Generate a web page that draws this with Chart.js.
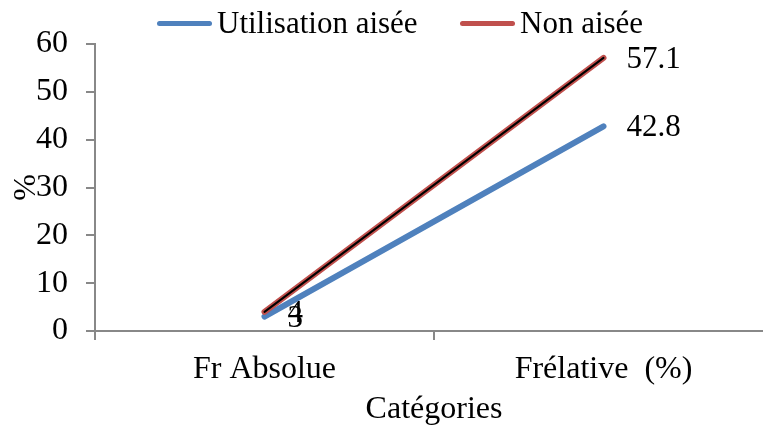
<!DOCTYPE html>
<html><head><meta charset="utf-8">
<script src="https://cdn.jsdelivr.net/npm/chart.js@4"></script>
<style>
html,body{margin:0;padding:0;background:#fff;overflow:hidden;width:763px;height:430px;}
#wrap{position:relative;width:790px;height:430px;}
#legend{position:absolute;left:0;top:0;width:790px;height:44px;font-family:'Liberation Serif','Times New Roman',serif;font-size:31px;color:#000;}
.item{position:absolute;top:7px;line-height:31px;white-space:nowrap;padding-left:60px;}
.swatch{position:absolute;left:0;top:14px;width:55px;height:5px;border-radius:3px;}
canvas{display:block;}
</style>
</head><body>
<div id="wrap">
<canvas id="c" width="790" height="430" style="width:790px;height:430px"></canvas>
<div id="legend"></div>
</div>
<script>
// ---- data ----
const categories = ['Fr Absolue', 'Frélative  (%)'];
const seriesNames = ['Utilisation aisée', 'Non aisée'];
const utilisationAisee = [3, 42.8];
const nonAisee = [4, 57.1];
const yTicks = [0, 10, 20, 30, 40, 50, 60];
const xTitle = 'Catégories';
const yTitle = '%';

// ---- styles ----
const FONT = "'Liberation Serif','Times New Roman',serif";
const BLUE = '#4F81BD';
const RED = '#C0504D';
const AXIS = '#888888';
const CANVAS_W = 790, PLOT_RIGHT = 773, PLOT_TOP = 44, PLOT_LEFT = 95, PLOT_BOTTOM = 331;

// HTML legend built from series names/colors
const legendEl = document.getElementById('legend');
const legendColors = [BLUE, RED];
const legendLefts = [157, 460];
seriesNames.forEach((n, i) => {
  const it = document.createElement('div');
  it.className = 'item';
  it.style.left = legendLefts[i] + 'px';
  const sw = document.createElement('span');
  sw.className = 'swatch';
  sw.style.background = legendColors[i];
  it.appendChild(sw);
  it.appendChild(document.createTextNode(n));
  legendEl.appendChild(it);
});

const valueLabels = {
  id: 'valueLabels',
  afterDatasetsDraw(chart) {
    const ctx = chart.ctx;
    ctx.save();
    ctx.font = "31px " + FONT;
    ctx.fillStyle = '#000';
    ctx.textBaseline = 'middle';
    ctx.textAlign = 'left';
    chart.data.datasets.forEach((ds, di) => {
      if (!ds.showValues) return;
      const meta = chart.getDatasetMeta(di);
      meta.data.forEach((pt, i) => {
        ctx.fillText(String(ds.data[i]), pt.x + 23, pt.y + 2);
      });
    });
    ctx.restore();
  }
};

new Chart(document.getElementById('c'), {
  type: 'line',
  data: {
    labels: categories,
    datasets: [
      { label: seriesNames[0], data: utilisationAisee, borderColor: BLUE, backgroundColor: BLUE,
        borderWidth: 6, pointRadius: 0, borderCapStyle: 'round', tension: 0, order: 3, showValues: true },
      { label: seriesNames[1], data: nonAisee, borderColor: RED, backgroundColor: RED,
        borderWidth: 6, pointRadius: 0, borderCapStyle: 'round', tension: 0, order: 2, showValues: true },
      { label: seriesNames[1] + ' (inner)', data: nonAisee, borderColor: '#000', backgroundColor: '#000',
        borderWidth: 2, pointRadius: 0, borderCapStyle: 'round', tension: 0, order: 1, showValues: false }
    ]
  },
  options: {
    responsive: false,
    animation: false,
    layout: { padding: { top: PLOT_TOP, right: CANVAS_W - PLOT_RIGHT, bottom: 0, left: 0 } },
    plugins: { legend: { display: false }, tooltip: { enabled: false } },
    scales: {
      x: {
        offset: true,
        grid: { offset: true, drawOnChartArea: false, drawTicks: true, tickLength: 9, color: AXIS, lineWidth: 2 },
        border: { display: true, color: AXIS, width: 2 },
        ticks: { color: '#000', font: { family: FONT, size: 32 }, padding: 10, maxRotation: 0, autoSkip: false },
        title: { display: true, text: xTitle, color: '#000', font: { family: FONT, size: 32 }, padding: { top: 0, bottom: 1 } },
        afterFit: s => { s.height = 430 - PLOT_BOTTOM; }
      },
      y: {
        min: yTicks[0], max: yTicks[yTicks.length - 1],
        afterBuildTicks: s => { s.ticks = yTicks.map(v => ({ value: v })); },
        grid: { drawOnChartArea: false, drawTicks: true, tickLength: 9, color: AXIS, lineWidth: 2 },
        border: { display: true, color: AXIS, width: 2 },
        ticks: { color: '#000', font: { family: FONT, size: 32 }, padding: 18 },
        title: { display: true, text: yTitle, color: '#000', font: { family: FONT, size: 32 }, padding: { top: 7, bottom: 0 } },
        afterFit: s => { s.width = PLOT_LEFT; }
      }
    }
  },
  plugins: [valueLabels]
});
</script>
</body></html>
